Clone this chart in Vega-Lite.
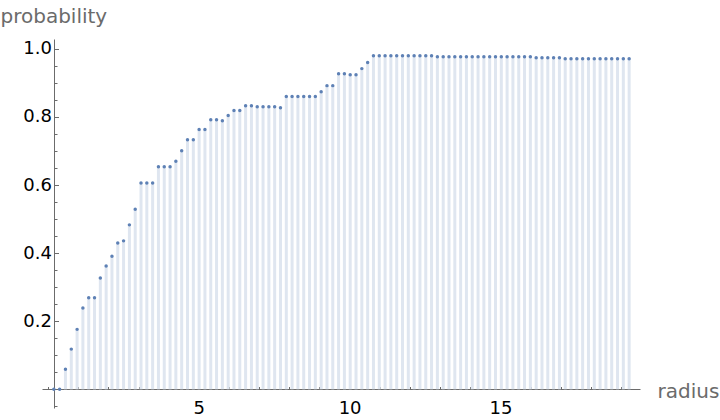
{
  "$schema": "https://vega.github.io/schema/vega-lite/v6.json",
  "width": 598,
  "height": 369,
  "autosize": {"type": "none"},
  "padding": {"left": 42, "top": 39, "right": 80, "bottom": 12},
  "background": "white",
  "config": {
    "view": {"stroke": null},
    "font": "DejaVu Sans",
    "axis": {
      "grid": false,
      "domainColor": "#6b6b6b",
      "tickColor": "#6b6b6b",
      "labelColor": "#000000",
      "labelFont": "DejaVu Sans",
      "titleFont": "DejaVu Sans",
      "titleColor": "#6b6b6b",
      "titleFontWeight": "normal"
    }
  },
  "data": {"values": [
    {"radius": 0.193, "probability": 0},
    {"radius": 0.385, "probability": 0},
    {"radius": 0.578, "probability": 0.059},
    {"radius": 0.771, "probability": 0.118},
    {"radius": 0.964, "probability": 0.176},
    {"radius": 1.156, "probability": 0.239},
    {"radius": 1.349, "probability": 0.269},
    {"radius": 1.542, "probability": 0.269},
    {"radius": 1.734, "probability": 0.327},
    {"radius": 1.927, "probability": 0.362},
    {"radius": 2.120, "probability": 0.391},
    {"radius": 2.312, "probability": 0.430},
    {"radius": 2.505, "probability": 0.436},
    {"radius": 2.698, "probability": 0.483},
    {"radius": 2.891, "probability": 0.529},
    {"radius": 3.083, "probability": 0.606},
    {"radius": 3.276, "probability": 0.606},
    {"radius": 3.469, "probability": 0.606},
    {"radius": 3.661, "probability": 0.654},
    {"radius": 3.854, "probability": 0.654},
    {"radius": 4.047, "probability": 0.654},
    {"radius": 4.239, "probability": 0.670},
    {"radius": 4.432, "probability": 0.701},
    {"radius": 4.625, "probability": 0.733},
    {"radius": 4.818, "probability": 0.733},
    {"radius": 5.010, "probability": 0.763},
    {"radius": 5.203, "probability": 0.763},
    {"radius": 5.396, "probability": 0.792},
    {"radius": 5.588, "probability": 0.792},
    {"radius": 5.781, "probability": 0.789},
    {"radius": 5.974, "probability": 0.804},
    {"radius": 6.166, "probability": 0.819},
    {"radius": 6.359, "probability": 0.819},
    {"radius": 6.552, "probability": 0.833},
    {"radius": 6.745, "probability": 0.833},
    {"radius": 6.937, "probability": 0.830},
    {"radius": 7.130, "probability": 0.830},
    {"radius": 7.323, "probability": 0.830},
    {"radius": 7.515, "probability": 0.830},
    {"radius": 7.708, "probability": 0.827},
    {"radius": 7.901, "probability": 0.860},
    {"radius": 8.093, "probability": 0.860},
    {"radius": 8.286, "probability": 0.860},
    {"radius": 8.479, "probability": 0.860},
    {"radius": 8.672, "probability": 0.860},
    {"radius": 8.864, "probability": 0.860},
    {"radius": 9.057, "probability": 0.874},
    {"radius": 9.250, "probability": 0.892},
    {"radius": 9.442, "probability": 0.892},
    {"radius": 9.635, "probability": 0.927},
    {"radius": 9.828, "probability": 0.927},
    {"radius": 10.020, "probability": 0.924},
    {"radius": 10.213, "probability": 0.924},
    {"radius": 10.406, "probability": 0.942},
    {"radius": 10.599, "probability": 0.960},
    {"radius": 10.791, "probability": 0.980},
    {"radius": 10.984, "probability": 0.980},
    {"radius": 11.177, "probability": 0.980},
    {"radius": 11.369, "probability": 0.980},
    {"radius": 11.562, "probability": 0.980},
    {"radius": 11.755, "probability": 0.980},
    {"radius": 11.947, "probability": 0.980},
    {"radius": 12.140, "probability": 0.980},
    {"radius": 12.333, "probability": 0.980},
    {"radius": 12.526, "probability": 0.980},
    {"radius": 12.718, "probability": 0.980},
    {"radius": 12.911, "probability": 0.977},
    {"radius": 13.104, "probability": 0.977},
    {"radius": 13.296, "probability": 0.977},
    {"radius": 13.489, "probability": 0.977},
    {"radius": 13.682, "probability": 0.977},
    {"radius": 13.874, "probability": 0.977},
    {"radius": 14.067, "probability": 0.977},
    {"radius": 14.260, "probability": 0.977},
    {"radius": 14.453, "probability": 0.977},
    {"radius": 14.645, "probability": 0.977},
    {"radius": 14.838, "probability": 0.977},
    {"radius": 15.031, "probability": 0.977},
    {"radius": 15.223, "probability": 0.977},
    {"radius": 15.416, "probability": 0.977},
    {"radius": 15.609, "probability": 0.977},
    {"radius": 15.801, "probability": 0.977},
    {"radius": 15.994, "probability": 0.977},
    {"radius": 16.187, "probability": 0.974},
    {"radius": 16.380, "probability": 0.974},
    {"radius": 16.572, "probability": 0.974},
    {"radius": 16.765, "probability": 0.974},
    {"radius": 16.958, "probability": 0.974},
    {"radius": 17.150, "probability": 0.971},
    {"radius": 17.343, "probability": 0.971},
    {"radius": 17.536, "probability": 0.971},
    {"radius": 17.728, "probability": 0.971},
    {"radius": 17.921, "probability": 0.971},
    {"radius": 18.114, "probability": 0.971},
    {"radius": 18.307, "probability": 0.971},
    {"radius": 18.499, "probability": 0.971},
    {"radius": 18.692, "probability": 0.971},
    {"radius": 18.885, "probability": 0.971},
    {"radius": 19.077, "probability": 0.971},
    {"radius": 19.270, "probability": 0.971}
  ]},
  "resolve": {"axis": {"x": "independent", "y": "independent"}},
  "layer": [
    {
      "mark": {"type": "rule", "strokeWidth": 3, "color": "#dfe6f0"},
      "encoding": {
        "x": {
          "field": "radius", "type": "quantitative",
          "scale": {"domain": [-0.2, 19.63], "nice": false, "zero": false},
          "axis": {
            "orient": "bottom", "offset": -19, "values": [5, 10, 15],
            "tickSize": -4.5, "labelFontSize": 18, "labelPadding": 15,
            "title": "radius", "titleFontSize": 20, "titleAlign": "left",
            "titleBaseline": "alphabetic", "titleAnchor": "start",
            "titleX": 615, "titleY": 8
          }
        },
        "y": {
          "field": "probability", "type": "quantitative",
          "scale": {"domain": [-0.055, 1.029], "nice": false, "zero": false},
          "axis": {
            "orient": "left", "offset": -12, "values": [0.2, 0.4, 0.6, 0.8, 1.0],
            "format": ".1f", "tickSize": -4.5, "labelFontSize": 18, "labelPadding": 7,
            "title": "probability", "titleFontSize": 20, "titleAngle": 0,
            "titleAlign": "left", "titleBaseline": "alphabetic", "titleAnchor": "start",
            "titleX": -54, "titleY": -17
          }
        },
        "y2": {"datum": 0}
      }
    },
    {
      "mark": {"type": "point", "filled": true, "size": 12, "opacity": 1, "color": "#5e81b5"},
      "encoding": {
        "x": {
          "field": "radius", "type": "quantitative",
          "axis": {
            "orient": "bottom", "offset": -19,
            "values": [0, 1, 2, 3, 4, 6, 7, 8, 9, 11, 12, 13, 14, 16, 17, 18, 19],
            "tickSize": -2.5, "labels": false, "domain": false, "title": null
          }
        },
        "y": {
          "field": "probability", "type": "quantitative",
          "axis": {
            "orient": "left", "offset": -12,
            "values": [-0.05, 0.05, 0.1, 0.15, 0.25, 0.3, 0.35, 0.45, 0.5, 0.55, 0.65, 0.7, 0.75, 0.85, 0.9, 0.95],
            "tickSize": -3, "labels": false, "domain": false, "title": null
          }
        }
      }
    }
  ]
}
